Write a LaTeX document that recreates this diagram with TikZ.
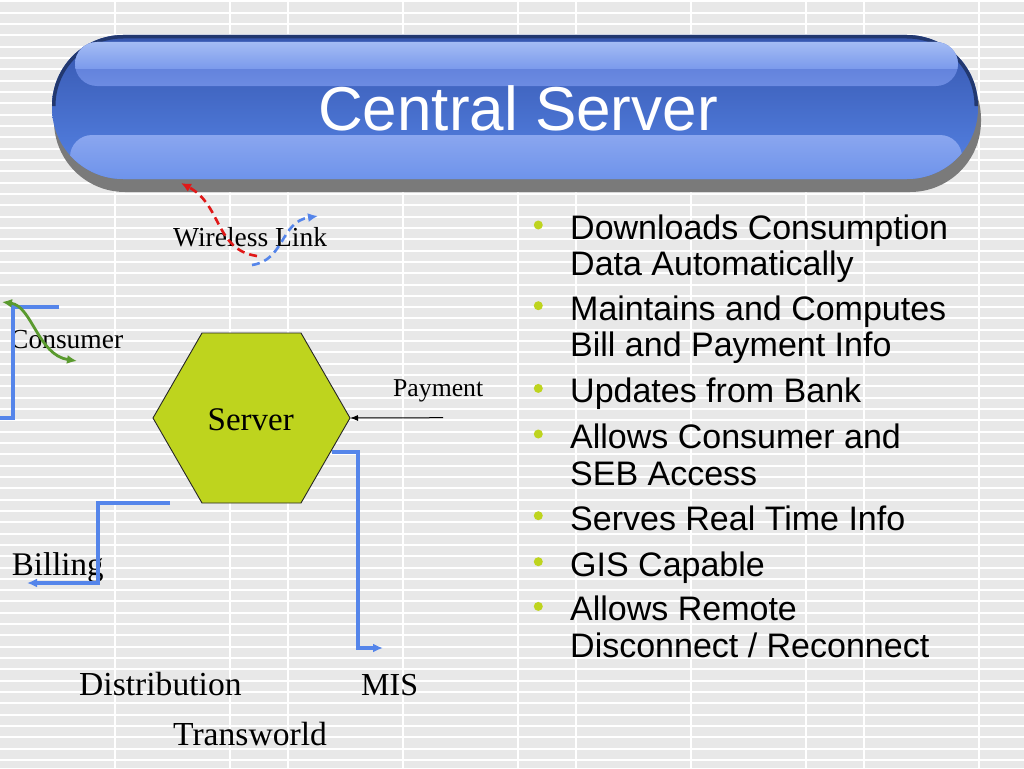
\documentclass[tikz,border=0pt]{standalone}
\usepackage{fontspec}
\setmainfont{Liberation Serif}
\newfontfamily\arialf{Liberation Sans}
\usetikzlibrary{arrows.meta}
\definecolor{bgray}{HTML}{E8E8E8}
\definecolor{linkblue}{HTML}{5585EA}
\definecolor{hexgreen}{HTML}{BED41E}
\definecolor{arcgreen}{HTML}{5A9A2E}
\definecolor{dashred}{HTML}{E01818}
\definecolor{pillshadow}{HTML}{7A7A7A}
\definecolor{pilltop}{HTML}{3656AE}
\definecolor{pillmid}{HTML}{4466C4}
\definecolor{pillbot}{HTML}{5684E6}
\definecolor{pillhiA}{HTML}{A4BCF4}
\definecolor{pillhiB}{HTML}{7C9BEC}
\definecolor{pillhiC}{HTML}{5676D4}
\definecolor{pillhiD}{HTML}{6C8CE2}
\definecolor{pilllowA}{HTML}{8AA6EF}
\definecolor{pilllowB}{HTML}{5A86E8}
\definecolor{pillborder}{HTML}{22386F}
\tikzset{
  serlabel/.style={inner sep=0pt, anchor=base west, text=black},
  bultext/.style={inner sep=0pt, anchor=base west, text=black, font=\arialf\fontsize{34}{40}\selectfont},
  bulletdot/.style={fill=hexgreen},
  linkline/.style={draw=linkblue, line width=3.5pt, line join=miter, -{Latex[length=10pt,width=9pt]}},
  wirelessline/.style={line width=2.6pt, dash pattern=on 8pt off 5pt, -{Latex[length=10pt,width=9pt]}}
}
\begin{document}
\begin{tikzpicture}[x=1pt,y=-1pt]
\useasboundingbox (0,0) rectangle (1024,768);
% background
\fill[bgray] (0,0) rectangle (1024,768);
\foreach \k in {0,...,67} \fill[white] (0,{1.5+11.32*\k-1}) rectangle (1024,{1.5+11.32*\k+1});
\foreach \x in {115,230,288,403,518,576,691,806,864,979} \fill[white] (\x-0.8,0) rectangle (\x+0.8,768);

% title pill
\fill[pillshadow, rounded corners=71pt] (54,48) rectangle (981,192);
\begin{scope}
  \clip[rounded corners=71pt] (52,35) rectangle (978,179);
  \shade[top color=pilltop, middle color=pillmid, bottom color=pillbot] (52,35) rectangle (978,179);
  \shade[rounded corners=22pt, top color=pilllowA, bottom color=pilllowB] (70,135) rectangle (962,210);
  \draw[pillborder, line width=7pt, rounded corners=71pt] (52,35) -- (52,100) (52,100) |- (978,35) -- (978,100);
\end{scope}
\begin{scope}
  \clip[rounded corners=22pt] (75,42) rectangle (958,86);
  \shade[top color=pillhiC, bottom color=pillhiD] (75,42) rectangle (958,86);
  \shade[top color=pillhiA, bottom color=pillhiB] (75,42) rectangle (958,68);
\end{scope}
\node[inner sep=0pt, anchor=base, text=white, font=\arialf\fontsize{62}{70}\selectfont] (title) at (518,130) {Central Server};

% bullets
\foreach \yy in {225,305.7,388.4,434,515.7,561.7,606.4} \fill[bulletdot] (538.3,\yy) circle (4.5);
\node[bultext] (b1a) at (570,239.3) {Downloads Consumption};
\node[bultext] (b1b) at (570,275) {Data Automatically};
\node[bultext] (b2a) at (570,320) {Maintains and Computes};
\node[bultext] (b2b) at (570,356.7) {Bill and Payment Info};
\node[bultext] (b3) at (570,402.7) {Updates from Bank};
\node[bultext] (b4a) at (570,448.3) {Allows Consumer and};
\node[bultext] (b4b) at (570,485) {SEB Access};
\node[bultext] (b5) at (570,530) {Serves Real Time Info};
\node[bultext] (b6) at (570,576) {GIS Capable};
\node[bultext] (b7a) at (570,620.7) {Allows Remote};
\node[bultext] (b7b) at (570,657.3) {Disconnect / Reconnect};

% server hexagon
\filldraw[fill=hexgreen, draw=black!85, line width=0.9pt] (202,333) -- (301,333) -- (350,418) -- (301,503) -- (202,503) -- (153,418) -- cycle;
\node[inner sep=0pt, anchor=base, font=\fontsize{33}{38}\selectfont] (server) at (250.8,430) {Server};
\coordinate (hexE) at (350,418);

% labels
\node[serlabel, font=\fontsize{27.5}{32}\selectfont] (wireless) at (173,246) {Wireless Link};
\node[serlabel, font=\fontsize{27.5}{32}\selectfont] (consumer) at (10,348.3) {Consumer};
\node[serlabel, font=\fontsize{25.7}{30}\selectfont] (payment) at (393,396) {Payment};
\node[serlabel, font=\fontsize{33}{38}\selectfont] (billing) at (11.7,575) {Billing};
\node[serlabel, font=\fontsize{33.6}{38}\selectfont] (distribution) at (79,695) {Distribution};
\node[serlabel, font=\fontsize{32}{38}\selectfont] (mis) at (361,695) {MIS};
\node[serlabel, font=\fontsize{33.6}{38}\selectfont] (transworld) at (173,745) {Transworld};

% connector coordinates
\coordinate (payst) at (443,417.7);
\coordinate (misst) at (332,452);
\coordinate (misend) at (383,648);
\coordinate (billst) at (170,503);
\coordinate (billend) at (27,583);
\coordinate (consst) at (59,307);
\coordinate (consend) at (0,418);
\coordinate (garcA) at (2,302);
\coordinate (garcB) at (77,361);
\coordinate (redst) at (257,256);
\coordinate (redend) at (181,183);
\coordinate (bluest) at (252,265);
\coordinate (blueend) at (318,216);

% connectors
\draw[black, line width=1pt, -{Latex[length=8pt,width=6pt]}] (payst) -- (hexE);
\draw[linkline] (misst) -- ++(26,0) |- (misend);
\draw[linkline] (billst) -- ++(-72,0) |- (billend);
\draw[draw=linkblue, line width=3.5pt, line join=miter] (consst) -- ++(-46,0) |- (consend);
\draw[arcgreen, line width=2.8pt, {Latex[length=10pt,width=9pt]}-{Latex[length=10pt,width=9pt]}] (garcA) .. controls (32,306) and (38,355) .. (garcB);
\draw[wirelessline, dashred] (redst) .. controls (215,250) and (222,205) .. (redend);
\draw[wirelessline, linkblue] (bluest) .. controls (285,260) and (280,222) .. (blueend);
\end{tikzpicture}
\end{document}
